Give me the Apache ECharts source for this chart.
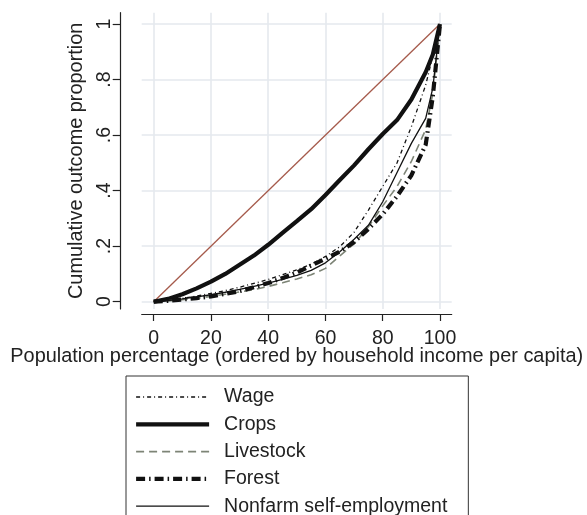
<!DOCTYPE html>
<html>
<head>
<meta charset="utf-8">
<script src="https://cdn.jsdelivr.net/npm/echarts@6/dist/echarts.min.js"></script>
<style>html,body{margin:0;padding:0;background:#fff;}#c{width:587px;height:515px;}</style>
</head>
<body>
<div id="c"></div>
<script>
// Population percentage (x)
var pct = [0,5,10,15,20,25,30,35,40,45,50,55,60,65,70,75,80,85,90,95,97.5,100];
// Cumulative outcome proportion per income source
var wage      = [0,0.005,0.012,0.020,0.030,0.040,0.052,0.066,0.080,0.097,0.115,0.135,0.163,0.198,0.250,0.330,0.415,0.500,0.630,0.780,0.885,1];
var crops     = [0,0.010,0.027,0.048,0.072,0.100,0.133,0.166,0.205,0.248,0.290,0.333,0.384,0.438,0.491,0.549,0.604,0.654,0.728,0.826,0.890,1];
var livestock = [0,0.003,0.007,0.012,0.019,0.027,0.035,0.043,0.055,0.068,0.082,0.097,0.120,0.165,0.208,0.270,0.345,0.415,0.505,0.620,0.750,1];
var forest    = [0,0.003,0.008,0.013,0.019,0.028,0.038,0.052,0.067,0.085,0.105,0.130,0.155,0.180,0.215,0.262,0.315,0.380,0.455,0.565,0.740,1];
var nonfarm   = [0,0.004,0.010,0.017,0.025,0.034,0.044,0.055,0.067,0.080,0.095,0.113,0.140,0.180,0.225,0.275,0.360,0.465,0.570,0.660,0.770,1];
// Line of equality
var eqX = [0,100];
var eqY = [0,1];
// Tick values
var xTicks = [0,20,40,60,80,100];
var yTicks = [0,0.2,0.4,0.6,0.8,1];
var seriesNames = ['Wage','Crops','Livestock','Forest','Nonfarm self-employment'];

function pairs(xs, ys){ return xs.map(function(x,i){ return [x, ys[i]]; }); }

var FONT = 'Liberation Sans, Arial, sans-serif';
var styles = {
  'Wage': {color:'#111', width:1.3, type:[4,3,1,3]},
  'Crops': {color:'#111', width:4.2, type:'solid'},
  'Livestock': {color:'#7d8476', width:1.6, type:[8,5]},
  'Forest': {color:'#111', width:4.2, type:[9,4,1.5,4]},
  'Nonfarm self-employment': {color:'#111', width:1.3, type:'solid'}
};
var values = {'Wage':wage,'Crops':crops,'Livestock':livestock,'Forest':forest,'Nonfarm self-employment':nonfarm};

var series = [{
  name:'equality', type:'line', data: pairs(eqX, eqY), symbol:'none', silent:true,
  lineStyle:{color:'#a55a4b', width:1.3}, z:1
}];
seriesNames.forEach(function(n){
  var s = styles[n];
  series.push({
    name:n, type:'line', data: pairs(pct, values[n]), symbol:'none', showSymbol:false, silent:true,
    lineStyle:{color:s.color, width:s.width, type:s.type}, itemStyle:{color:s.color}, z:2
  });
});

var chart = echarts.init(document.getElementById('c'), null, {renderer:'canvas'});
chart.setOption({
  animation:false,
  backgroundColor:'#fff',
  grid:{left:141.7, right:135.3, top:12.7, bottom:206, containLabel:false},
  xAxis:{
    type:'value', min:-4.19, max:104.09, offset:5,
    name:'Population percentage (ordered by household income per capita)',
    nameLocation:'middle', nameGap:33, nameMoveOverlap:false,
    nameTextStyle:{fontFamily:FONT, fontSize:19.9, color:'#222'},
    axisLine:{show:true, onZero:false, lineStyle:{color:'#222', width:1.2}},
    axisTick:{show:true, length:7, customValues:xTicks, lineStyle:{color:'#222', width:1.2}},
    axisLabel:{customValues:xTicks, fontFamily:FONT, fontSize:19.5, color:'#222', margin:15},
    splitLine:{show:true, lineStyle:{color:'#e5e9ee', width:1.6}}
  },
  yAxis:{
    type:'value', min:-0.0263, max:1.0407, offset:21,
    name:'Cumulative outcome proportion',
    nameLocation:'middle', nameGap:34, nameRotate:90, nameMoveOverlap:false,
    nameTextStyle:{fontFamily:FONT, fontSize:19.9, color:'#222'},
    axisLine:{show:true, onZero:false, lineStyle:{color:'#222', width:1.2}},
    axisTick:{show:true, length:8, customValues:yTicks, lineStyle:{color:'#222', width:1.2}},
    axisLabel:{customValues:yTicks, rotate:90, fontFamily:FONT, fontSize:19.5, color:'#222', margin:6,
      formatter:function(v){ if(v===0) return '0'; if(v===1) return '1'; return String(+v.toFixed(1)).replace(/^0/,''); }},
    splitLine:{show:true, lineStyle:{color:'#e5e9ee', width:1.6}}
  },
  legend:{
    orient:'vertical', left:126, top:376, height:200,
    padding:[11,21,20,8],
    borderColor:'#333', borderWidth:1,
    itemWidth:73, itemHeight:14, itemGap:7.3,
    selectedMode:false,
    itemStyle:{color:'rgba(0,0,0,0)', borderWidth:0, opacity:0},
    textStyle:{fontFamily:FONT, fontSize:19.5, color:'#222', lineHeight:20, padding:[0,0,0,10]},
    data: seriesNames.map(function(n){
      var s = styles[n];
      return {name:n, itemStyle:{color:'rgba(0,0,0,0)', borderWidth:0, opacity:0},
              lineStyle:{color:s.color, width:s.width, type:s.type, opacity:1}};
    })
  },
  series: series
});
</script>
</body>
</html>
